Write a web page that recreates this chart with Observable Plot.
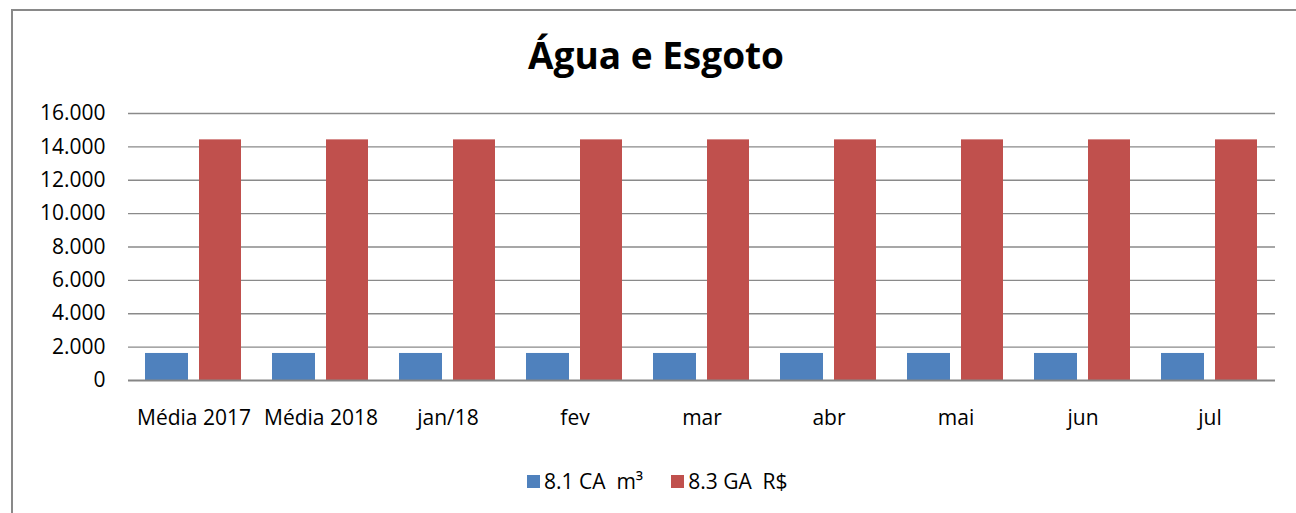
<!DOCTYPE html>
<html>
<head>
<meta charset="utf-8">
<script src="https://cdn.jsdelivr.net/npm/d3@7"></script>
<script src="https://cdn.jsdelivr.net/npm/@observablehq/plot@0.6"></script>
<style>
  html, body { margin: 0; padding: 0; background: #fff; overflow: hidden; width: 1296px; height: 513px; }
  body { position: relative; font-family: "Open Sans", sans-serif; color: #000; }
  #frame { position: absolute; left: 11px; top: 9px; width: 1400px; height: 600px; border: 2px solid #898989; box-sizing: border-box; }
  #title { position: absolute; left: 0; width: 1312px; top: 30px; text-align: center; font-size: 37px; font-weight: bold; line-height: 50px; }
  #chart { position: absolute; left: 0; top: 95px; }
  #legend { position: absolute; left: 527px; top: 467px; display: flex; align-items: center; font-size: 21px; white-space: pre; }
  .sw { width: 13px; height: 13px; display: inline-block; margin-right: 4px; }
  .item { display: flex; align-items: center; margin-right: 28px; }
</style>
</head>
<body>
<div id="frame"></div>
<div id="title">Água e Esgoto</div>
<div id="chart"></div>
<div id="legend"></div>
<script>
const categories = ["Média 2017", "Média 2018", "jan/18", "fev", "mar", "abr", "mai", "jun", "jul"];
const seriesNames = ["8.1 CA  m³", "8.3 GA  R$"];
const caValues = [1620, 1620, 1620, 1620, 1620, 1620, 1620, 1620, 1620];
const gaValues = [14420, 14420, 14420, 14420, 14420, 14420, 14420, 14420, 14420];
const seriesColors = ["#4F81BD", "#C0504D"];
const yTicks = [0, 2000, 4000, 6000, 8000, 10000, 12000, 14000, 16000];

const ptBR = d3.formatLocale({decimal: ",", thousands: ".", grouping: [3], currency: ["R$", ""]});
const fmt = ptBR.format(",");

const ca = categories.map((c, i) => ({cat: c, value: caValues[i]}));
const ga = categories.map((c, i) => ({cat: c, value: gaValues[i]}));

const plot = Plot.plot({
  width: 1296,
  height: 340,
  marginLeft: 128,
  marginRight: 21,
  marginTop: 18,
  marginBottom: 55,
  style: {fontFamily: "Open Sans, sans-serif", fontSize: "21px", color: "#000", background: "transparent"},
  x: {domain: categories, padding: 0, label: null},
  y: {domain: [0, 16000], label: null},
  marks: [
    Plot.ruleY(yTicks.slice(1), {stroke: "#8a8a8a", strokeWidth: 1.3}),
    Plot.barY(ca, {x: "cat", y: "value", fill: seriesColors[0], insetLeft: 15, insetRight: 69}),
    Plot.barY(ga, {x: "cat", y: "value", fill: seriesColors[1], insetLeft: 69, insetRight: 16}),
    Plot.ruleY([0], {stroke: "#868686", strokeWidth: 2}),
    Plot.axisY({ticks: yTicks, tickFormat: fmt, tickSize: 0, tickPadding: 23, label: null, fontSize: 21}),
    Plot.axisX({tickSize: 0, tickPadding: 30, label: null, fontSize: 21})
  ]
});
document.getElementById("chart").appendChild(plot);

const legend = document.getElementById("legend");
seriesNames.forEach((name, i) => {
  const item = document.createElement("div");
  item.className = "item";
  const sw = document.createElement("span");
  sw.className = "sw";
  sw.style.background = seriesColors[i];
  const t = document.createElement("span");
  t.textContent = name;
  item.appendChild(sw);
  item.appendChild(t);
  legend.appendChild(item);
});
</script>
</body>
</html>
